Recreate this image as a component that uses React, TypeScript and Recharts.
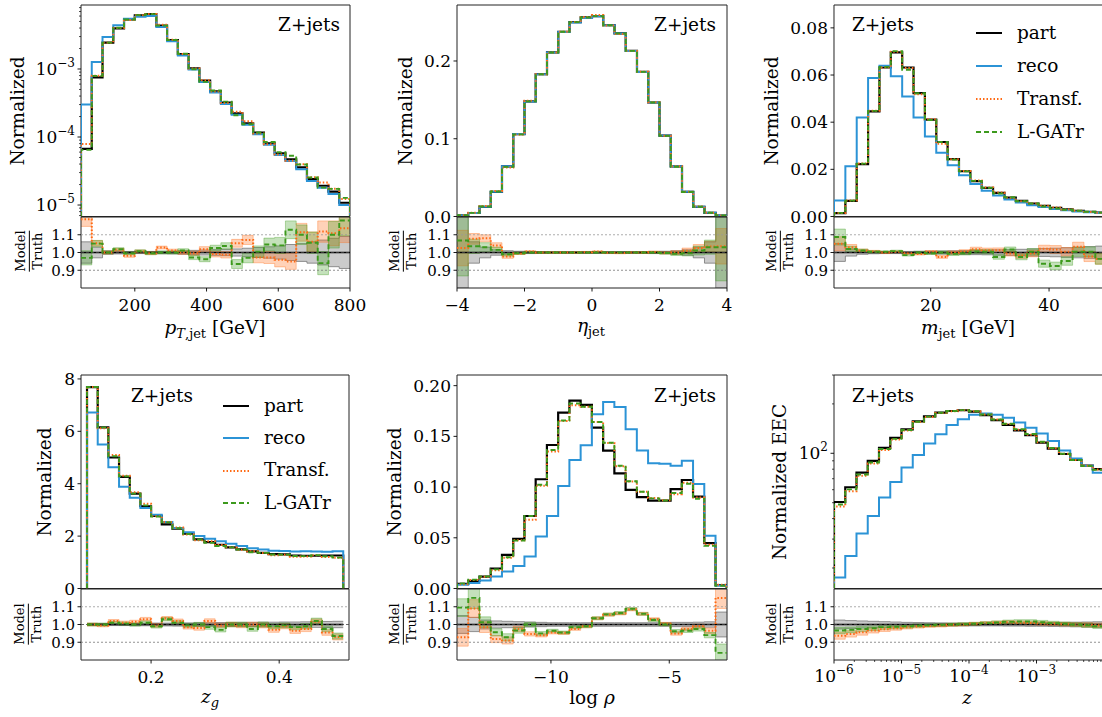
import React from 'react';
import { ComposedChart, Line, Area, XAxis, YAxis, ReferenceLine, ReferenceArea } from 'recharts';

// ---------------- data ----------------
const PT_EDGES = [50, 80, 110, 140, 170, 200, 230, 260, 290, 320, 350, 380, 410, 440, 470, 500, 530, 560, 590, 620, 650, 680, 710, 740, 770, 800];
const PT_PART = [6.67e-5, 7.54e-4, 2.44e-3, 3.96e-3, 5.37e-3, 6.15e-3, 6.44e-3, 4.34e-3, 2.67e-3, 1.66e-3, 1.02e-3, 6.73e-4, 4.7e-4, 3.2e-4, 2.23e-4, 1.59e-4, 1.16e-4, 8.07e-5, 5.75e-5, 4.7e-5, 3.58e-5, 2.41e-5, 1.92e-5, 1.57e-5, 1.08e-5];
const PT_RECO = [3.0e-4, 1.27e-3, 2.95e-3, 4.4e-3, 5.5e-3, 5.85e-3, 6.0e-3, 4.15e-3, 2.55e-3, 1.58e-3, 9.8e-4, 6.45e-4, 4.5e-4, 3.05e-4, 2.12e-4, 1.51e-4, 1.1e-4, 7.7e-5, 5.45e-5, 4.45e-5, 3.35e-5, 2.25e-5, 1.8e-5, 1.45e-5, 1.0e-5];
const PT_TRANSF_RATIO = [1.187, 1.052, 1.0, 1.015, 0.981, 1.006, 0.996, 1.028, 1.011, 1.0, 0.996, 1.019, 0.991, 0.987, 1.052, 1.071, 0.972, 0.972, 0.959, 0.95, 1.114, 1.061, 1.118, 1.108, 1.136];
const PT_LGATR_RATIO = [0.97, 1.05, 1.0, 1.019, 0.996, 1.007, 0.996, 1.0, 1.0, 1.011, 0.972, 0.962, 1.025, 1.037, 0.935, 0.97, 1.005, 1.045, 1.04, 1.128, 1.1, 1.055, 0.94, 1.1, 1.18];
const PT_TRUTH_ERR = [0.06, 0.03, 0.01, 0.008, 0.006, 0.006, 0.006, 0.007, 0.008, 0.01, 0.012, 0.014, 0.016, 0.018, 0.02, 0.024, 0.028, 0.032, 0.037, 0.045, 0.05, 0.06, 0.07, 0.08, 0.09];
const PT_TRANSF_ERR = [0.04, 0.015, 0.008, 0.008, 0.008, 0.008, 0.008, 0.008, 0.008, 0.01, 0.012, 0.014, 0.016, 0.018, 0.022, 0.026, 0.03, 0.034, 0.04, 0.045, 0.05, 0.055, 0.06, 0.07, 0.08];
const PT_LGATR_ERR = [0.04, 0.018, 0.008, 0.008, 0.008, 0.008, 0.008, 0.008, 0.008, 0.01, 0.012, 0.014, 0.016, 0.018, 0.025, 0.028, 0.032, 0.036, 0.045, 0.05, 0.055, 0.06, 0.065, 0.075, 0.085];

const ETA_EDGES = [-4, -3.667, -3.333, -3, -2.667, -2.333, -2, -1.667, -1.333, -1, -0.667, -0.333, 0, 0.333, 0.667, 1, 1.333, 1.667, 2, 2.333, 2.667, 3, 3.333, 3.667, 4];
const ETA_PART = [0.0015, 0.0045, 0.0124, 0.0316, 0.0645, 0.106, 0.148, 0.183, 0.211, 0.2376, 0.25, 0.256, 0.2577, 0.246, 0.2355, 0.213, 0.186, 0.1466, 0.104, 0.0645, 0.0316, 0.0124, 0.0047, 0.0013];
const ETA_RECO = [0.0016, 0.0046, 0.0125, 0.0318, 0.0647, 0.1062, 0.1478, 0.1828, 0.2108, 0.2372, 0.2496, 0.2556, 0.2574, 0.2458, 0.2352, 0.2128, 0.1858, 0.1465, 0.1041, 0.0647, 0.0318, 0.0125, 0.0048, 0.0014];
const ETA_TRANSF_RATIO = [1.025, 1.077, 1.08, 1.04, 0.977, 0.995, 1.005, 1.0, 1.0, 1.0, 1.0, 1.002, 1.005, 0.998, 0.997, 1.0, 1.0, 1.003, 0.998, 1.0, 1.01, 1.025, 1.034, 1.035];
const ETA_LGATR_RATIO = [1.068, 1.035, 1.03, 1.015, 0.99, 0.996, 1.0, 1.0, 1.0, 1.0, 1.0, 1.0, 1.0, 1.0, 1.0, 1.0, 1.0, 1.0, 0.997, 0.993, 0.996, 1.011, 1.03, 1.03];
const ETA_TRUTH_ERR = [0.2, 0.06, 0.03, 0.015, 0.01, 0.007, 0.006, 0.005, 0.005, 0.005, 0.005, 0.005, 0.005, 0.005, 0.005, 0.005, 0.005, 0.006, 0.007, 0.01, 0.015, 0.03, 0.06, 0.2];
const ETA_TRANSF_ERR = [0.1, 0.03, 0.02, 0.015, 0.01, 0.006, 0.005, 0.005, 0.004, 0.004, 0.004, 0.004, 0.004, 0.004, 0.004, 0.004, 0.005, 0.005, 0.006, 0.01, 0.015, 0.02, 0.03, 0.1];
const ETA_LGATR_ERR = [0.2, 0.04, 0.025, 0.015, 0.01, 0.006, 0.005, 0.005, 0.004, 0.004, 0.004, 0.004, 0.004, 0.004, 0.004, 0.004, 0.005, 0.005, 0.006, 0.01, 0.015, 0.025, 0.04, 0.19];

const MJET_EDGES = [3.66, 5.58, 7.5, 9.42, 11.34, 13.26, 15.18, 17.1, 19.02, 20.94, 22.86, 24.78, 26.7, 28.62, 30.54, 32.46, 34.38, 36.3, 38.22, 40.14, 42.06, 43.98, 45.9, 47.82, 49.74];
const MJET_PART = [0.0014, 0.0066, 0.0222, 0.0446, 0.0632, 0.0696, 0.0632, 0.0523, 0.0411, 0.0316, 0.0243, 0.0192, 0.015, 0.0121, 0.01, 0.008, 0.0066, 0.0055, 0.0045, 0.0037, 0.003, 0.0024, 0.002, 0.0017];
const MJET_RECO = [0.0068, 0.0213, 0.042, 0.0587, 0.0639, 0.0595, 0.0509, 0.042, 0.0339, 0.027, 0.0217, 0.0175, 0.0138, 0.0109, 0.0089, 0.0072, 0.0059, 0.0048, 0.004, 0.0032, 0.0027, 0.0021, 0.0018, 0.0016];
const MJET_TRANSF_RATIO = [1.049, 1.03, 1.011, 1.006, 1.0, 1.004, 0.996, 0.992, 1.004, 0.975, 1.0, 1.006, 1.019, 1.013, 1.013, 0.994, 0.983, 0.994, 1.021, 1.017, 1.004, 1.032, 0.977, 0.964];
const MJET_LGATR_RATIO = [1.087, 1.02, 1.011, 1.004, 1.004, 1.008, 0.985, 1.0, 0.996, 1.0, 0.992, 0.996, 1.006, 1.004, 0.975, 1.017, 0.975, 1.004, 0.937, 0.924, 0.952, 1.004, 1.004, 0.964];
const MJET_TRUTH_ERR = [0.05, 0.02, 0.01, 0.007, 0.006, 0.006, 0.006, 0.007, 0.008, 0.009, 0.01, 0.011, 0.012, 0.013, 0.015, 0.016, 0.018, 0.02, 0.022, 0.024, 0.027, 0.03, 0.033, 0.036];
const MJET_TRANSF_ERR = [0.04, 0.015, 0.008, 0.006, 0.005, 0.005, 0.005, 0.006, 0.007, 0.008, 0.009, 0.01, 0.011, 0.012, 0.013, 0.014, 0.016, 0.018, 0.02, 0.022, 0.024, 0.026, 0.028, 0.03];
const MJET_LGATR_ERR = [0.045, 0.015, 0.008, 0.006, 0.005, 0.005, 0.005, 0.006, 0.007, 0.008, 0.009, 0.01, 0.011, 0.012, 0.013, 0.014, 0.016, 0.018, 0.02, 0.022, 0.024, 0.026, 0.028, 0.03];

const ZG_EDGES = [0.1, 0.1167, 0.1333, 0.15, 0.1667, 0.1833, 0.2, 0.2167, 0.2333, 0.25, 0.2667, 0.2833, 0.3, 0.3167, 0.3333, 0.35, 0.3667, 0.3833, 0.4, 0.4167, 0.4333, 0.45, 0.4667, 0.4833, 0.5];
const ZG_PART = [7.69, 6.15, 5.0, 4.26, 3.62, 3.14, 2.77, 2.45, 2.28, 2.09, 1.875, 1.77, 1.67, 1.57, 1.49, 1.42, 1.36, 1.31, 1.3, 1.26, 1.25, 1.25, 1.26, 1.26];
const ZG_RECO = [6.72, 5.5, 4.63, 3.88, 3.46, 3.07, 2.82, 2.54, 2.31, 2.15, 2.0, 1.9, 1.8, 1.71, 1.62, 1.54, 1.49, 1.44, 1.43, 1.41, 1.42, 1.41, 1.4, 1.42];
const ZG_TRANSF_RATIO = [1.0, 0.995, 1.02, 1.01, 1.015, 1.03, 0.995, 1.035, 1.02, 0.985, 0.98, 1.02, 0.995, 1.0, 0.995, 1.0, 0.995, 0.97, 0.99, 0.965, 0.975, 1.015, 0.955, 0.93];
const ZG_LGATR_RATIO = [1.0, 1.0, 1.01, 1.005, 1.0, 1.01, 0.99, 1.03, 1.01, 0.995, 1.0, 0.985, 0.97, 1.0, 1.0, 0.975, 1.0, 0.99, 0.995, 0.985, 0.99, 1.02, 0.975, 0.935];
const ZG_TRUTH_ERR = [0.006, 0.006, 0.006, 0.006, 0.007, 0.007, 0.008, 0.008, 0.009, 0.009, 0.01, 0.01, 0.011, 0.011, 0.012, 0.012, 0.013, 0.013, 0.014, 0.014, 0.015, 0.016, 0.017, 0.018];
const ZG_TRANSF_ERR = [0.008, 0.008, 0.008, 0.009, 0.009, 0.01, 0.01, 0.01, 0.011, 0.011, 0.012, 0.012, 0.012, 0.013, 0.013, 0.013, 0.014, 0.014, 0.014, 0.015, 0.015, 0.016, 0.016, 0.017];
const ZG_LGATR_ERR = [0.008, 0.008, 0.008, 0.009, 0.009, 0.01, 0.01, 0.01, 0.011, 0.011, 0.012, 0.012, 0.012, 0.013, 0.013, 0.013, 0.014, 0.014, 0.014, 0.015, 0.015, 0.016, 0.016, 0.017];

const RHO_EDGES = [-13.97, -13.495, -13.02, -12.545, -12.07, -11.595, -11.12, -10.645, -10.17, -9.695, -9.22, -8.745, -8.27, -7.795, -7.32, -6.845, -6.37, -5.895, -5.42, -4.945, -4.47, -3.995, -3.52, -3.045, -2.57];
const RHO_PART = [0.0046, 0.0076, 0.0118, 0.0197, 0.0332, 0.0489, 0.0715, 0.1077, 0.1415, 0.1734, 0.1852, 0.181, 0.1586, 0.136, 0.1136, 0.0972, 0.09, 0.0867, 0.0867, 0.0979, 0.107, 0.0906, 0.0447, 0.0033];
const RHO_RECO = [0.0036, 0.0053, 0.0079, 0.0118, 0.0167, 0.0223, 0.0315, 0.0512, 0.0716, 0.101, 0.1268, 0.1412, 0.1718, 0.184, 0.179, 0.157, 0.136, 0.1235, 0.123, 0.121, 0.126, 0.103, 0.052, 0.003];
const RHO_TRANSF_RATIO = [0.928, 1.09, 0.985, 0.918, 0.91, 0.975, 0.947, 0.94, 0.955, 0.952, 0.975, 0.99, 1.035, 1.055, 1.062, 1.085, 1.06, 1.03, 1.004, 0.95, 0.975, 0.99, 0.965, 1.15];
const RHO_LGATR_RATIO = [1.095, 1.15, 1.013, 0.956, 0.928, 0.966, 1.0, 0.95, 0.965, 0.955, 0.985, 0.99, 1.035, 1.057, 1.065, 1.088, 1.06, 1.025, 1.0, 0.962, 0.965, 0.975, 0.94, 0.84];
const RHO_TRUTH_ERR = [0.05, 0.04, 0.025, 0.02, 0.018, 0.016, 0.014, 0.012, 0.01, 0.01, 0.01, 0.01, 0.01, 0.01, 0.01, 0.01, 0.01, 0.01, 0.01, 0.012, 0.012, 0.013, 0.015, 0.07];
const RHO_TRANSF_ERR = [0.05, 0.05, 0.03, 0.02, 0.02, 0.015, 0.012, 0.01, 0.008, 0.008, 0.008, 0.008, 0.008, 0.008, 0.008, 0.008, 0.008, 0.008, 0.008, 0.01, 0.01, 0.012, 0.015, 0.06];
const RHO_LGATR_ERR = [0.05, 0.06, 0.03, 0.02, 0.02, 0.015, 0.012, 0.01, 0.008, 0.008, 0.008, 0.008, 0.008, 0.008, 0.008, 0.008, 0.008, 0.008, 0.008, 0.01, 0.01, 0.012, 0.015, 0.05];

const EEC_EDGES = [1e-6, 1.468e-6, 2.154e-6, 3.162e-6, 4.642e-6, 6.813e-6, 1e-5, 1.468e-5, 2.154e-5, 3.162e-5, 4.642e-5, 6.813e-5, 1e-4, 1.468e-4, 2.154e-4, 3.162e-4, 4.642e-4, 6.813e-4, 1e-3, 1.468e-3, 2.154e-3, 3.162e-3, 4.642e-3, 6.813e-3, 1e-2];
const EEC_PART = [50.5, 62.1, 76.2, 89.8, 107.8, 124, 140, 156.6, 168, 177, 181, 183, 179.5, 171, 159, 149, 138, 128.8, 116, 106.8, 99, 91, 84, 80];
const EEC_RECO = [17.5, 23.7, 32.5, 41.5, 53.7, 66.8, 81.8, 97.7, 114.6, 130.6, 149, 161, 172, 175, 172, 164.6, 154, 143, 132, 119, 104, 93, 84, 76];
const EEC_TRANSF_RATIO = [0.937, 0.947, 0.956, 0.966, 0.973, 0.979, 0.985, 0.989, 0.992, 0.994, 0.998, 1.0, 1.004, 1.008, 1.01, 1.012, 1.01, 1.008, 1.006, 1.004, 1.002, 1.0, 0.998, 0.996];
const EEC_LGATR_RATIO = [0.966, 0.97, 0.975, 0.979, 0.985, 0.987, 0.99, 0.994, 0.996, 0.998, 1.0, 1.002, 1.004, 1.008, 1.011, 1.015, 1.017, 1.017, 1.013, 1.008, 1.004, 1.0, 0.996, 0.99];
const EEC_TRUTH_ERR = [0.025, 0.022, 0.02, 0.018, 0.016, 0.014, 0.012, 0.011, 0.01, 0.009, 0.008, 0.008, 0.008, 0.008, 0.008, 0.009, 0.009, 0.01, 0.01, 0.011, 0.012, 0.013, 0.014, 0.015];
const EEC_TRANSF_ERR = [0.02, 0.018, 0.016, 0.014, 0.012, 0.011, 0.01, 0.009, 0.008, 0.008, 0.008, 0.008, 0.008, 0.008, 0.009, 0.01, 0.01, 0.01, 0.01, 0.01, 0.01, 0.01, 0.012, 0.012];
const EEC_LGATR_ERR = [0.018, 0.016, 0.015, 0.013, 0.012, 0.011, 0.01, 0.009, 0.008, 0.008, 0.008, 0.008, 0.008, 0.008, 0.009, 0.01, 0.01, 0.01, 0.01, 0.01, 0.01, 0.01, 0.012, 0.012];

// tick values
const PT_Y_TICKS = [7e-6, 8e-6, 9e-6, 1e-5, 2e-5, 3e-5, 4e-5, 5e-5, 6e-5, 7e-5, 8e-5, 9e-5, 1e-4, 2e-4, 3e-4, 4e-4, 5e-4, 6e-4, 7e-4, 8e-4, 9e-4, 1e-3, 2e-3, 3e-3, 4e-3, 5e-3, 6e-3, 7e-3, 8e-3];
const PT_X_TICKS = [200, 400, 600, 800];
const ETA_Y_TICKS = [0, 0.1, 0.2];
const ETA_X_TICKS = [-4, -2, 0, 2, 4];
const MJET_Y_TICKS = [0, 0.02, 0.04, 0.06, 0.08];
const MJET_X_TICKS = [20, 40];
const ZG_Y_TICKS = [0, 2, 4, 6, 8];
const ZG_X_TICKS = [0.2, 0.4];
const RHO_Y_TICKS = [0, 0.05, 0.1, 0.15, 0.2];
const RHO_X_TICKS = [-10, -5];
const EEC_Y_TICKS = [20, 30, 40, 50, 60, 70, 80, 90, 100, 200, 300];
const EEC_X_TICKS = [1e-6, 2e-6, 3e-6, 4e-6, 5e-6, 6e-6, 7e-6, 8e-6, 9e-6, 1e-5, 2e-5, 3e-5, 4e-5, 5e-5, 6e-5, 7e-5, 8e-5, 9e-5, 1e-4, 2e-4, 3e-4, 4e-4, 5e-4, 6e-4, 7e-4, 8e-4, 9e-4, 1e-3, 2e-3, 3e-3, 4e-3, 5e-3, 6e-3, 7e-3, 8e-3, 9e-3];
const RATIO_TICKS = [0.9, 1.0, 1.1];

const LEGEND_LABELS = ['part', 'reco', 'Transf.', 'L-GATr'];

// ---------------- styling ----------------
const FONT = "'DejaVu Serif', serif";
const COL = { part: '#000000', reco: '#2b93d6', transf: '#ff6a14', lgatr: '#3d9a1d' };
const TS = 3.5;
const TMY = 2.5;
const TMX = 7.5;
const TICK_FS = 17;
const RATIO_TICK_FS = 15;
const LABEL_FS = 18.5;

type Hist = {
  edges: number[]; part: number[]; reco: number[];
  trR: number[]; lgR: number[]; gErr: number[]; tErr: number[]; lErr: number[];
};

const H_PT: Hist = { edges: PT_EDGES, part: PT_PART, reco: PT_RECO, trR: PT_TRANSF_RATIO, lgR: PT_LGATR_RATIO, gErr: PT_TRUTH_ERR, tErr: PT_TRANSF_ERR, lErr: PT_LGATR_ERR };
const H_ETA: Hist = { edges: ETA_EDGES, part: ETA_PART, reco: ETA_RECO, trR: ETA_TRANSF_RATIO, lgR: ETA_LGATR_RATIO, gErr: ETA_TRUTH_ERR, tErr: ETA_TRANSF_ERR, lErr: ETA_LGATR_ERR };
const H_MJET: Hist = { edges: MJET_EDGES, part: MJET_PART, reco: MJET_RECO, trR: MJET_TRANSF_RATIO, lgR: MJET_LGATR_RATIO, gErr: MJET_TRUTH_ERR, tErr: MJET_TRANSF_ERR, lErr: MJET_LGATR_ERR };
const H_ZG: Hist = { edges: ZG_EDGES, part: ZG_PART, reco: ZG_RECO, trR: ZG_TRANSF_RATIO, lgR: ZG_LGATR_RATIO, gErr: ZG_TRUTH_ERR, tErr: ZG_TRANSF_ERR, lErr: ZG_LGATR_ERR };
const H_RHO: Hist = { edges: RHO_EDGES, part: RHO_PART, reco: RHO_RECO, trR: RHO_TRANSF_RATIO, lgR: RHO_LGATR_RATIO, gErr: RHO_TRUTH_ERR, tErr: RHO_TRANSF_ERR, lErr: RHO_LGATR_ERR };
const H_EEC: Hist = { edges: EEC_EDGES, part: EEC_PART, reco: EEC_RECO, trR: EEC_TRANSF_RATIO, lgR: EEC_LGATR_RATIO, gErr: EEC_TRUTH_ERR, tErr: EEC_TRANSF_ERR, lErr: EEC_LGATR_ERR };

function buildMain(h: Hist, floor: number) {
  const n = h.part.length;
  const rows: any[] = [{ x: h.edges[0], part: floor, reco: floor, transf: floor, lgatr: floor }];
  for (let i = 0; i < n; i++) {
    rows.push({ x: h.edges[i], part: h.part[i], reco: h.reco[i], transf: h.part[i] * h.trR[i], lgatr: h.part[i] * h.lgR[i] });
  }
  const last = rows[rows.length - 1];
  rows.push({ ...last, x: h.edges[n] });
  rows.push({ x: h.edges[n], part: floor, reco: floor, transf: floor, lgatr: floor });
  return rows;
}

function buildRatio(h: Hist) {
  const n = h.part.length;
  const rows: any[] = [];
  for (let i = 0; i < n; i++) {
    rows.push({
      x: h.edges[i],
      one: h.part[i] / h.part[i],
      truth: [1 - h.gErr[i], 1 + h.gErr[i]],
      tr: h.trR[i],
      trBand: [h.trR[i] - h.tErr[i], h.trR[i] + h.tErr[i]],
      lg: h.lgR[i],
      lgBand: [h.lgR[i] - h.lErr[i], h.lgR[i] + h.lErr[i]],
    });
  }
  rows.push({ ...rows[rows.length - 1], x: h.edges[n] });
  return rows;
}

const supText = (e: number) => (e < 0 ? '\u2212' + String(-e) : String(e));

function LogYTick(props: any) {
  const { x, y, payload } = props;
  const v = payload.value;
  const lg = Math.log10(v);
  const e = Math.round(lg);
  const major = Math.abs(lg - e) < 1e-6;
  const ax = x + TS + TMY;
  return (
    <g>
      <line x1={ax} x2={ax - (major ? 3.5 : 2)} y1={y} y2={y} stroke="#000" strokeWidth={major ? 0.9 : 0.7} />
      {major && (
        <text x={ax - TS - TMY} y={y + 6} textAnchor="end" fontFamily={FONT} fontSize={TICK_FS} fill="#000">
          10<tspan dy={-8} fontSize={12}>{supText(e)}</tspan>
        </text>
      )}
    </g>
  );
}

function LogXTick(props: any) {
  const { x, y, payload } = props;
  const v = payload.value;
  const lg = Math.log10(v);
  const e = Math.round(lg);
  const major = Math.abs(lg - e) < 1e-6;
  const ay = y - TS - TMX;
  return (
    <g>
      <line x1={x} x2={x} y1={ay} y2={ay + (major ? 3.5 : 2)} stroke="#000" strokeWidth={major ? 0.9 : 0.7} />
      {major && (
        <text x={x} y={ay + 22} textAnchor="middle" fontFamily={FONT} fontSize={TICK_FS} fill="#000">
          10<tspan dy={-8} fontSize={12}>{supText(e)}</tspan>
        </text>
      )}
    </g>
  );
}

const fmt = (d: number) => (v: number) => {
  const s = Number(v).toFixed(d);
  return s.replace('-', '\u2212');
};

type PanelProps = {
  h: Hist; L: number; R: number; T: number; M: number; B: number;
  xDomain: [number, number]; yDomain: [number, number];
  logX?: boolean; logY?: boolean;
  xTicks: number[]; yTicks: number[]; xDec?: number; yDec?: number;
};

function Panel(p: PanelProps) {
  const ML = 80, MR = 30, MT = 8, MB = 14, XH = 45;
  const W = p.R - p.L + ML + MR;
  const floor = p.logY ? p.yDomain[0] : 0;
  const mrows = buildMain(p.h, floor);
  const rrows = buildRatio(p.h);
  const xScale: any = p.logX ? 'log' : 'linear';
  const yScale: any = p.logY ? 'log' : 'linear';
  const tickStyle = { fill: '#000', fontSize: TICK_FS, fontFamily: FONT };
  const ratioTickStyle = { fill: '#000', fontSize: RATIO_TICK_FS, fontFamily: FONT };
  const tickLine = { stroke: '#000', strokeWidth: 0.9 };
  const frame = '#222';
  return (
    <>
      <div style={{ position: 'absolute', left: p.L - ML, top: p.T - MT }}>
        <ComposedChart width={W} height={p.M - p.T + MT + MB} data={mrows} margin={{ top: MT, right: MR, bottom: MB, left: 0 }}>
          <XAxis dataKey="x" type="number" scale={xScale} domain={p.xDomain} allowDataOverflow hide />
          <YAxis
            type="number" scale={yScale} domain={p.yDomain} allowDataOverflow width={ML}
            ticks={p.yTicks} interval={0} axisLine={false} tickSize={TS} tickMargin={TMY}
            tickLine={p.logY ? false : tickLine}
            tick={p.logY ? (tp: any) => <LogYTick {...tp} /> : tickStyle}
            tickFormatter={p.logY ? undefined : fmt(p.yDec ?? 1)}
          />
          <Line dataKey="part" type="stepAfter" stroke={COL.part} strokeWidth={2.2} dot={false} isAnimationActive={false} />
          <Line dataKey="reco" type="stepAfter" stroke={COL.reco} strokeWidth={2} dot={false} isAnimationActive={false} />
          <Line dataKey="transf" type="stepAfter" stroke={COL.transf} strokeWidth={2} strokeDasharray="1.5 2" dot={false} isAnimationActive={false} />
          <Line dataKey="lgatr" type="stepAfter" stroke={COL.lgatr} strokeWidth={1.9} strokeDasharray="5 3" dot={false} isAnimationActive={false} />
          <ReferenceArea x1={p.xDomain[0]} x2={p.xDomain[1]} y1={p.yDomain[0]} y2={p.yDomain[1]} fill="none" stroke={frame} strokeWidth={1} ifOverflow="visible" />
        </ComposedChart>
      </div>
      <div style={{ position: 'absolute', left: p.L - ML, top: p.M - MT }}>
        <ComposedChart width={W} height={p.B - p.M + MT + XH} data={rrows} margin={{ top: MT, right: MR, bottom: 0, left: 0 }}>
          <XAxis
            dataKey="x" type="number" scale={xScale} domain={p.xDomain} allowDataOverflow height={XH}
            ticks={p.xTicks} interval={0} axisLine={false} tickSize={TS} tickMargin={TMX}
            tickLine={p.logX ? false : tickLine}
            tick={p.logX ? (tp: any) => <LogXTick {...tp} /> : tickStyle}
            tickFormatter={p.logX ? undefined : fmt(p.xDec ?? 0)}
          />
          <YAxis
            type="number" domain={[0.8, 1.2]} allowDataOverflow width={ML}
            ticks={RATIO_TICKS} interval={0} axisLine={false} tickSize={TS} tickMargin={TMY}
            tickLine={tickLine} tick={ratioTickStyle} tickFormatter={fmt(1)}
          />
          <ReferenceLine y={0.9} stroke="#777" strokeDasharray="2 2" strokeWidth={0.8} />
          <ReferenceLine y={1.1} stroke="#999" strokeDasharray="2 2" strokeWidth={0.8} />
          <Area dataKey="truth" type="stepAfter" fill="#b9b9b9" fillOpacity={0.75} stroke="#777" strokeWidth={0.8} dot={false} isAnimationActive={false} />
          <Area dataKey="trBand" type="stepAfter" fill={COL.transf} fillOpacity={0.3} stroke={COL.transf} strokeOpacity={0.45} strokeWidth={0.8} dot={false} isAnimationActive={false} />
          <Area dataKey="lgBand" type="stepAfter" fill={COL.lgatr} fillOpacity={0.3} stroke={COL.lgatr} strokeOpacity={0.45} strokeWidth={0.8} dot={false} isAnimationActive={false} />
          <Line dataKey="one" type="stepAfter" stroke={COL.part} strokeWidth={1.6} dot={false} isAnimationActive={false} />
          <ReferenceLine y={1} stroke="#444" strokeDasharray="3 2" strokeWidth={0.8} />
          <Line dataKey="tr" type="stepAfter" stroke={COL.transf} strokeWidth={2} strokeDasharray="1.5 2" dot={false} isAnimationActive={false} />
          <Line dataKey="lg" type="stepAfter" stroke={COL.lgatr} strokeWidth={1.9} strokeDasharray="5 3" dot={false} isAnimationActive={false} />
          <ReferenceArea x1={p.xDomain[0]} x2={p.xDomain[1]} y1={0.8} y2={1.2} fill="none" stroke={frame} strokeWidth={1} ifOverflow="visible" />
        </ComposedChart>
      </div>
    </>
  );
}

// --------------- text helpers ---------------
function Txt({ x, base, anchor = 'start', fs = LABEL_FS, children }: any) {
  const tx = anchor === 'middle' ? '-50%' : anchor === 'end' ? '-100%' : '0';
  return (
    <div style={{ position: 'absolute', left: x, top: base - 0.846 * fs, fontFamily: FONT, fontSize: fs, lineHeight: 1, whiteSpace: 'nowrap', transform: `translateX(${tx})`, color: '#000' }}>
      {children}
    </div>
  );
}

function VTxt({ cx, cy, fs = LABEL_FS, children }: any) {
  return (
    <div style={{ position: 'absolute', left: cx, top: cy, fontFamily: FONT, fontSize: fs, lineHeight: 1, whiteSpace: 'nowrap', transform: 'translate(-50%, -50%) rotate(-90deg)', color: '#000' }}>
      {children}
    </div>
  );
}

function Frac({ cx, cy }: any) {
  return (
    <div style={{ position: 'absolute', left: cx, top: cy, fontFamily: FONT, fontSize: 13, lineHeight: 1.05, transform: 'translate(-50%, -50%) rotate(-90deg)', color: '#000' }}>
      <div style={{ display: 'flex', flexDirection: 'column', alignItems: 'center' }}>
        <span style={{ paddingBottom: 1 }}>Model</span>
        <span style={{ borderTop: '1.5px solid #000', paddingTop: 1, width: '100%', textAlign: 'center' }}>Truth</span>
      </div>
    </div>
  );
}

function LegendBox({ left, top, rowH }: any) {
  const styles = [
    { c: COL.part, d: undefined },
    { c: COL.reco, d: undefined },
    { c: COL.transf, d: '1.5 2' },
    { c: COL.lgatr, d: '5 3' },
  ];
  return (
    <div style={{ position: 'absolute', left, top, fontFamily: FONT, fontSize: LABEL_FS }}>
      {LEGEND_LABELS.map((lab, i) => (
        <div key={lab} style={{ display: 'flex', alignItems: 'center', height: rowH }}>
          <svg width={26} height={10} style={{ display: 'block' }}>
            <line x1={0} x2={26} y1={5} y2={5} stroke={styles[i].c} strokeWidth={2} strokeDasharray={styles[i].d} />
          </svg>
          <span style={{ marginLeft: 15, lineHeight: 1 }}>{lab}</span>
        </div>
      ))}
    </div>
  );
}

const subStyle: React.CSSProperties = { fontSize: 13, verticalAlign: '-0.3em' };

export default function App() {
  const R1 = { T: 5, M: 216.5, B: 287.5 };
  const R2 = { T: 375, M: 588.5, B: 659.5 };
  return (
    <div style={{ position: 'absolute', left: 0, top: 0, width: 1102, height: 717, overflow: 'hidden', background: '#fff' }}>
      <Panel h={H_PT} L={81} R={350} {...R1} xDomain={[50, 800]} yDomain={[6.78e-6, 8.73e-3]} logY xTicks={PT_X_TICKS} yTicks={PT_Y_TICKS} xDec={0} />
      <Panel h={H_ETA} L={457} R={727} {...R1} xDomain={[-4, 4]} yDomain={[0, 0.272]} xTicks={ETA_X_TICKS} yTicks={ETA_Y_TICKS} xDec={0} yDec={1} />
      <Panel h={H_MJET} L={834} R={1106.7} {...R1} xDomain={[3.66, 49.74]} yDomain={[0, 0.0897]} xTicks={MJET_X_TICKS} yTicks={MJET_Y_TICKS} xDec={0} yDec={2} />
      <Panel h={H_ZG} L={81} R={349} {...R2} xDomain={[0.0906, 0.509]} yDomain={[0, 8.15]} xTicks={ZG_X_TICKS} yTicks={ZG_Y_TICKS} xDec={1} yDec={0} />
      <Panel h={H_RHO} L={457} R={727} {...R2} xDomain={[-13.97, -2.56]} yDomain={[0, 0.2105]} xTicks={RHO_X_TICKS} yTicks={RHO_Y_TICKS} xDec={0} yDec={2} />
      <Panel h={H_EEC} L={834} R={1104} {...R2} xDomain={[1e-6, 1e-2]} yDomain={[15, 300]} logX logY xTicks={EEC_X_TICKS} yTicks={EEC_Y_TICKS} />

      {/* y labels */}
      <VTxt cx={18} cy={111}>Normalized</VTxt>
      <VTxt cx={406} cy={111}>Normalized</VTxt>
      <VTxt cx={772} cy={111}>Normalized</VTxt>
      <VTxt cx={45} cy={482}>Normalized</VTxt>
      <VTxt cx={395} cy={482}>Normalized</VTxt>
      <VTxt cx={780} cy={482}>Normalized EEC</VTxt>

      <Frac cx={29} cy={251} />
      <Frac cx={403} cy={251} />
      <Frac cx={780} cy={251} />
      <Frac cx={28} cy={624} />
      <Frac cx={403} cy={624} />
      <Frac cx={780} cy={624} />

      {/* x labels */}
      <Txt x={215} base={335} anchor="middle"><i>p</i><span style={subStyle}><i>T</i>,jet</span> [GeV]</Txt>
      <Txt x={591} base={333} anchor="middle"><i>η</i><span style={subStyle}>jet</span></Txt>
      <Txt x={968} base={335} anchor="middle"><i>m</i><span style={subStyle}>jet</span> [GeV]</Txt>
      <Txt x={210} base={704} anchor="middle"><i>z</i><span style={subStyle}><i>g</i></span></Txt>
      <Txt x={592} base={705} anchor="middle">log <i>ρ</i></Txt>
      <Txt x={967} base={705} anchor="middle"><i>z</i></Txt>

      {/* process labels */}
      <Txt x={340} base={32} anchor="end">Z+jets</Txt>
      <Txt x={716} base={32} anchor="end">Z+jets</Txt>
      <Txt x={852} base={32}>Z+jets</Txt>
      <Txt x={131} base={402.5}>Z+jets</Txt>
      <Txt x={716} base={402.5} anchor="end">Z+jets</Txt>
      <Txt x={852} base={402.5}>Z+jets</Txt>

      <LegendBox left={976} top={16.5} rowH={33} />
      <LegendBox left={223} top={390} rowH={32.3} />
    </div>
  );
}
